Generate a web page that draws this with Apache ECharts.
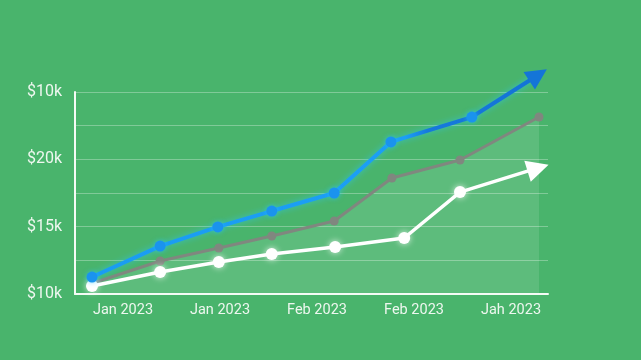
<!DOCTYPE html>
<html>
<head>
<meta charset="utf-8">
<script src="https://cdn.jsdelivr.net/npm/echarts@6/dist/echarts.min.js"></script>
<style>html,body{margin:0;padding:0;background:#49b46c;}#c{width:641px;height:360px;}</style>
</head>
<body>
<div id="c"></div>
<script>
// Data
const xCategories = ["Jan 2023", "Jan 2023", "Feb 2023", "Feb 2023", "Jah 2023"];
const yTickValues = [10, 15, 20, 25];
const yTickLabels = ["$10k", "$15k", "$20k", "$10k"];
const blueX = [3.6, 18.0, 30.2, 41.6, 54.8, 66.8, 83.9, 97.9];
const blueY = [11.26, 13.56, 14.98, 16.16, 17.5, 21.29, 23.14, 26.26];
const grayX = [3.8, 18.0, 30.4, 41.6, 54.8, 67.0, 81.4, 98.1];
const grayY = [10.82, 12.45, 13.42, 14.31, 15.42, 18.61, 19.95, 23.14];
const whiteX = [3.6, 18.0, 30.4, 41.6, 55.0, 69.6, 81.4, 97.9];
const whiteY = [10.59, 11.63, 12.38, 12.97, 13.49, 14.16, 17.57, 19.36];

function pairs(xs, ys) { return xs.map((x, i) => [x, ys[i]]); }
function withArrow(xs, ys, rot, color, size) {
  return xs.map((x, i) => {
    if (i === xs.length - 1) {
      return { value: [x, ys[i]], symbol: 'triangle', symbolSize: size, symbolRotate: rot,
               itemStyle: { color: color, shadowBlur: 0 } };
    }
    return [x, ys[i]];
  });
}

const chart = echarts.init(document.getElementById('c'), null, { renderer: 'canvas' });
const labelColor = '#eef7ef';
chart.setOption({
  backgroundColor: '#49b46c',
  animation: false,
  grid: [
    { left: 75, right: 93, top: 92, bottom: 66 },
    { left: 123, right: 130, top: 92, bottom: 66 }
  ],
  xAxis: [
    { type: 'value', gridIndex: 0, min: 0, max: 100, position: 'bottom',
      axisLine: { show: true, onZero: false, lineStyle: { color: '#f4fbf5', width: 2 } },
      axisTick: { show: false }, axisLabel: { show: false }, splitLine: { show: false } },
    { type: 'category', gridIndex: 1, data: xCategories, boundaryGap: false, position: 'bottom',
      axisLine: { show: false }, axisTick: { show: false },
      axisLabel: { color: labelColor, fontSize: 14.5, fontFamily: 'Roboto', margin: 9, interval: 0 } }
  ],
  yAxis: [
    { type: 'value', gridIndex: 0, min: 10, max: 25, interval: 2.5,
      axisLine: { show: true, lineStyle: { color: '#f4fbf5', width: 2 } },
      axisTick: { show: false },
      axisLabel: { color: labelColor, fontSize: 16, fontFamily: 'Roboto', margin: 13,
        formatter: function (v) { const i = yTickValues.indexOf(v); return i >= 0 ? yTickLabels[i] : ''; } },
      splitLine: { show: true, lineStyle: { color: 'rgba(255,255,255,0.3)', width: 1 } } },
    { type: 'value', gridIndex: 1, min: 10, max: 25, show: false }
  ],
  series: [
    { type: 'line', xAxisIndex: 0, yAxisIndex: 0, data: pairs(grayX, grayY), clip: false,
      symbol: 'circle', symbolSize: 9, z: 2,
      lineStyle: { color: '#80877f', width: 3 },
      itemStyle: { color: '#80877f' },
      areaStyle: { color: 'rgba(255,255,255,0.16)', origin: 'start' } },
    { type: 'line', xAxisIndex: 0, yAxisIndex: 0, data: withArrow(whiteX, whiteY, -73, '#ffffff', 22), clip: false,
      symbol: 'circle', symbolSize: 12, z: 4,
      lineStyle: { color: '#ffffff', width: 3.5 },
      itemStyle: { color: '#ffffff', shadowBlur: 6, shadowColor: 'rgba(255,255,255,0.8)' } },
    { type: 'line', xAxisIndex: 0, yAxisIndex: 0, data: withArrow(blueX, blueY, -57, '#1475d8', 21), clip: false,
      symbol: 'circle', symbolSize: 11, z: 5,
      lineStyle: { width: 4, shadowBlur: 6, shadowColor: 'rgba(40,200,255,0.6)',
        color: new echarts.graphic.LinearGradient(0, 0, 1, 0, [
          { offset: 0, color: '#1a9cf2' }, { offset: 0.7, color: '#1c9ff5' }, { offset: 0.75, color: '#1679dc' }, { offset: 1, color: '#1373d6' }
        ]) },
      itemStyle: { color: '#1a93ee', shadowBlur: 5, shadowColor: 'rgba(40,200,255,0.6)' } }
  ]
});
</script>
</body>
</html>
